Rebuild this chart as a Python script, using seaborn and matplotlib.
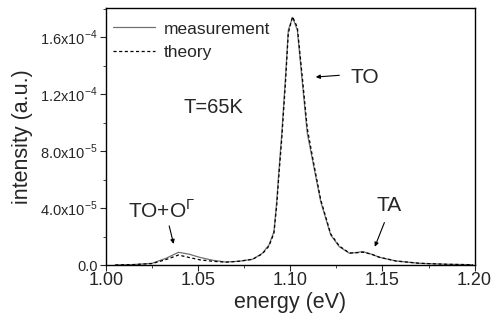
import numpy as np
import pandas as pd
import seaborn as sns
import matplotlib.pyplot as plt
from matplotlib.ticker import MultipleLocator

# energia (eV) e intensidade (x1e-5)
energy = [1.005, 1.015, 1.025, 1.0325, 1.0393, 1.045, 1.051, 1.058, 1.065, 1.072,
          1.0795, 1.0848, 1.0884, 1.0911, 1.0926, 1.0939, 1.0953, 1.0974, 1.0989, 1.1012,
          1.1038, 1.1062, 1.1092, 1.1129, 1.1165, 1.1219, 1.1266, 1.1321, 1.1360, 1.1393,
          1.1440, 1.1484, 1.1574, 1.170, 1.185, 1.199]
measurement = [0.02, 0.05, 0.14, 0.49, 0.91, 0.78, 0.55, 0.35, 0.23, 0.28,
               0.42, 0.84, 1.42, 2.36, 4.46, 6.81, 9.14, 13.24, 16.51, 17.40,
               16.51, 13.24, 9.26, 6.81, 4.46, 2.13, 1.30, 0.84, 0.90, 0.96,
               0.78, 0.56, 0.30, 0.14, 0.07, 0.04]
theory = [0.02, 0.05, 0.12, 0.40, 0.72, 0.55, 0.38, 0.28, 0.22, 0.28,
          0.42, 0.80, 1.35, 2.25, 4.20, 6.50, 8.80, 12.90, 16.30, 17.45,
          16.70, 13.60, 9.60, 7.00, 4.60, 2.20, 1.35, 0.86, 0.88, 0.92,
          0.78, 0.56, 0.30, 0.14, 0.07, 0.04]

yticks = [0, 4e-5, 8e-5, 1.2e-4, 1.6e-4]
ytick_labels = ['0.0', r'4.0x10$^{\mathregular{-5}}$', r'8.0x10$^{\mathregular{-5}}$',
                r'1.2x10$^{\mathregular{-4}}$', r'1.6x10$^{\mathregular{-4}}$']

df = pd.DataFrame({'energy': energy * 2,
                   'intensity': np.array(measurement + theory) * 1e-5,
                   'serie': ['measurement'] * len(energy) + ['theory'] * len(energy)})

sns.set_style('ticks')
plt.rcParams['font.family'] = ['Liberation Sans', 'DejaVu Sans']
plt.rcParams['mathtext.fontset'] = 'custom'
plt.rcParams['mathtext.rm'] = 'Liberation Sans'

fig, ax = plt.subplots(figsize=(4.98, 3.2), dpi=100)
fig.subplots_adjust(left=0.213, right=0.953, bottom=0.171, top=0.975)

sns.lineplot(data=df, x='energy', y='intensity', hue='serie', style='serie',
             palette={'measurement': '#707070', 'theory': 'black'},
             dashes={'measurement': '', 'theory': (2.5, 2)}, linewidth=0.9, ax=ax)

ax.set_xlim(1.0, 1.2)
ax.set_ylim(0, 1.806e-4)
ax.set_xticks([1.00, 1.05, 1.10, 1.15, 1.20])
ax.set_xticklabels(['1.00', '1.05', '1.10', '1.15', '1.20'])
ax.set_yticks(yticks)
ax.set_yticklabels(ytick_labels)
ax.xaxis.set_minor_locator(MultipleLocator(0.025))
ax.yaxis.set_minor_locator(MultipleLocator(2e-5))
ax.tick_params(axis='x', which='major', labelsize=13, length=4, pad=1)
ax.tick_params(axis='y', which='major', labelsize=10.5, length=4, pad=2)
ax.tick_params(which='minor', length=2.5)
for s in ax.spines.values():
    s.set_linewidth(1.0)
    s.set_color('black')

ax.set_xlabel('energy (eV)', fontsize=15.5, labelpad=2)
ax.set_ylabel('intensity (a.u.)', fontsize=15.5, labelpad=5)

ax.legend(title=None, frameon=False, loc='upper left', bbox_to_anchor=(0.02, 0.948),
          borderaxespad=0, borderpad=0, handlelength=2.4, handletextpad=0.5,
          labelspacing=0.5, fontsize=12.5)

# rotulos dos picos
ax.text(1.0584, 11.1e-5, 'T=65K', fontsize=14.5, ha='center', va='center')
ax.text(1.1402, 13.2e-5, 'TO', fontsize=15, ha='center', va='center')
ax.text(1.1538, 4.23e-5, 'TA', fontsize=15, ha='center', va='center')
ax.text(1.0304, 3.88e-5, r'TO+O$^{\mathregular{\Gamma}}$', fontsize=15, ha='center', va='center')

arrow = dict(arrowstyle='-|>', color='black', lw=0.8, mutation_scale=6)
ax.annotate('', xy=(1.1123, 13.2e-5), xytext=(1.1281, 13.35e-5), arrowprops=arrow)
ax.annotate('', xy=(1.1453, 1.12e-5), xytext=(1.1516, 3.18e-5), arrowprops=arrow)
ax.annotate('', xy=(1.0370, 1.31e-5), xytext=(1.0339, 2.95e-5), arrowprops=arrow)

plt.savefig('out.png', dpi=100)
